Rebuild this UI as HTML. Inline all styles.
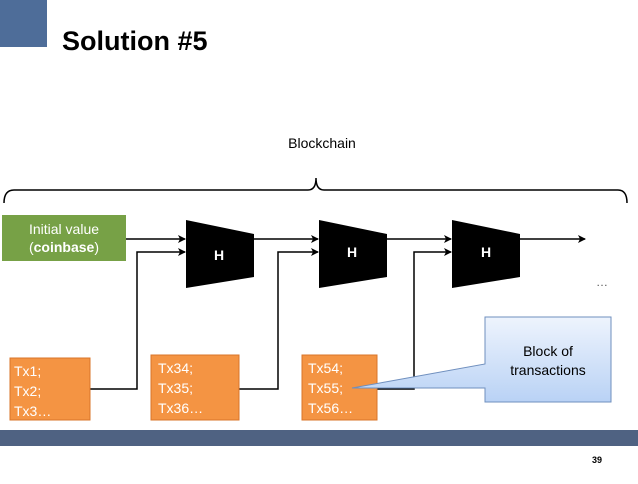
<!DOCTYPE html><html><head><style>body{margin:0;width:638px;height:479px;background:#fff;overflow:hidden;font-family:"Liberation Sans",sans-serif}</style></head><body>
<svg width="638" height="479" xmlns="http://www.w3.org/2000/svg" font-family="Liberation Sans, sans-serif">
<defs><marker id="a" markerWidth="8" markerHeight="8" refX="7" refY="4" orient="auto" markerUnits="userSpaceOnUse"><path d="M0,0 L8,4 L0,8 L2,4 Z" fill="#000"/></marker>
<linearGradient id="g" x1="0" y1="0" x2="0" y2="1"><stop offset="0" stop-color="#eef4fd"/><stop offset="1" stop-color="#b9d2f5"/></linearGradient></defs>
<rect x="0" y="0" width="47" height="47" fill="#4e6d99"/>
<text x="62" y="50" font-size="27" font-weight="bold">Solution #5</text>
<text x="322" y="148" font-size="14" text-anchor="middle">Blockchain</text>
<path d="M4,203 Q4,190 14,190 L308,190 Q316,190 316,178 Q316,190 324,190 L618,190 Q627,190 627,203" fill="none" stroke="#000" stroke-width="1.5"/>
<rect x="2" y="215" width="124" height="46" fill="#77a146"/>
<text x="64" y="234" font-size="14" fill="#fff" text-anchor="middle">Initial value</text>
<text x="64" y="252" font-size="14" fill="#fff" text-anchor="middle">(<tspan font-weight="bold">coinbase</tspan>)</text>
<g fill="#000"><polygon points="186,220 254,234 254,277 186,288"/><polygon points="319,220 387,234 387,277 319,288"/><polygon points="452,220 520,234 520,277 452,288"/></g>
<g fill="#fff" font-weight="bold" font-size="14" text-anchor="middle"><text x="219" y="260">H</text><text x="352" y="257">H</text><text x="486" y="257">H</text></g>
<g stroke="#000" stroke-width="1.5" fill="none" marker-end="url(#a)">
<line x1="126" y1="239" x2="185" y2="239"/><line x1="254" y1="239" x2="318" y2="239"/><line x1="387" y1="239" x2="451" y2="239"/><line x1="520" y1="239" x2="585" y2="239"/>
<polyline points="90,389 137,389 137,252 185,252"/><polyline points="239,389 278,389 278,252 318,252"/><polyline points="377,389 414,389 414,252 451,252"/></g>
<text x="602" y="286" font-size="12" fill="#555" text-anchor="middle">…</text>
<g fill="#f49443" stroke="#d9742a"><rect x="10" y="358" width="80" height="62"/><rect x="151" y="355" width="88" height="65"/><rect x="302" y="355" width="75" height="65"/></g>
<g fill="#fff" font-size="14"><text x="14" y="376">Tx1;</text><text x="14" y="396">Tx2;</text><text x="14" y="416">Tx3…</text>
<text x="158" y="373">Tx34;</text><text x="158" y="393">Tx35;</text><text x="158" y="413">Tx36…</text>
<text x="308" y="373">Tx54;</text><text x="308" y="393">Tx55;</text><text x="308" y="413">Tx56…</text></g>
<path d="M485,317 L611,317 L611,402 L485,402 L485,388 L352,388 L485,364 Z" fill="url(#g)" stroke="#6f8fbe"/>
<text x="548" y="356" font-size="14" text-anchor="middle">Block of</text>
<text x="548" y="375" font-size="14" text-anchor="middle">transactions</text>
<rect x="0" y="430" width="638" height="16" fill="#4f6282"/>
<text x="597" y="463" font-size="9" font-weight="bold" text-anchor="middle">39</text>
</svg></body></html>
